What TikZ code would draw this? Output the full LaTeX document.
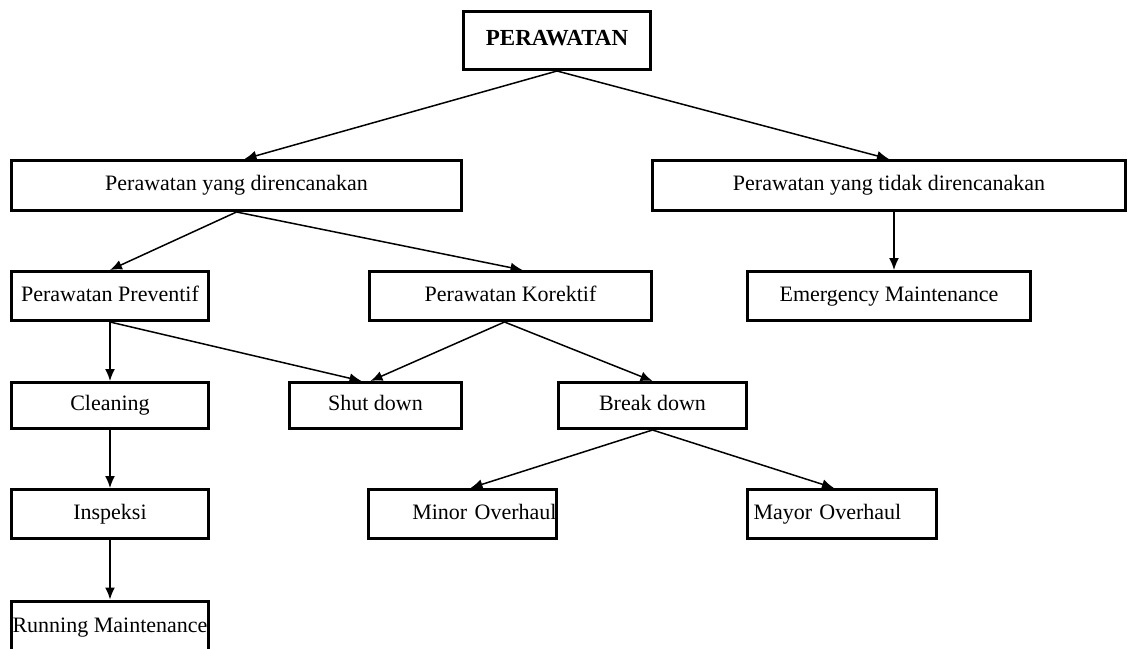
\documentclass[tikz,border=0pt]{standalone}
\usepackage{fontspec}
\setmainfont{Liberation Serif}
\usetikzlibrary{arrows.meta}

\begin{document}
\begin{tikzpicture}[x=0.5pt, y=-0.5pt,
		cadre/.style	= {draw, line width=1.5pt, inner sep=0pt, text height=7.8pt, text depth=2.4pt, font=\fontsize{11}{13}\selectfont},
		fleche/.style	= {-{Latex[length=6pt, width=5pt]}, line width=0.75pt}]
	% Cadre
	\useasboundingbox	(0,0)	rectangle	(1129,648)	;
	\clip				(0,0)	rectangle	(1129,648)	;
	% Niveau 1
	\node [cadre, minimum width=93.5pt, minimum height=29pt, font=\fontsize{11.5}{13}\selectfont\bfseries]
		(perawatan)	at (557,40.5)	{PERAWATAN};
	% Niveau 2
	\node [cadre, minimum width=225pt, minimum height=25pt]		(rencana)		at (236.5,185.5)	{Perawatan yang direncanakan};
	\node [cadre, minimum width=236.5pt, minimum height=25pt]	(takrencana)	at (889,185.5)		{Perawatan yang tidak direncanakan};
	% Niveau 3
	\node [cadre, minimum width=98.5pt, minimum height=24.5pt]	(preventif)		at (110,296)		{Perawatan Preventif};
	\node [cadre, minimum width=141pt, minimum height=24.5pt]	(korektif)		at (510.5,296)		{Perawatan Korektif};
	\node [cadre, minimum width=141.5pt, minimum height=24.5pt]	(darurat)		at (889,296)		{Emergency Maintenance};
	% Niveau 4
	\node [cadre, minimum width=98.5pt, minimum height=23pt]	(cleaning)		at (110,405.5)		{Cleaning};
	\node [cadre, minimum width=86pt, minimum height=23pt]		(shutdown)		at (375.5,405.5)	{Shut down};
	\node [cadre, minimum width=94pt, minimum height=23pt]		(breakdown)		at (652.5,405.5)	{Break down};
	% Niveau 5
	\node [cadre, minimum width=98.5pt, minimum height=24.5pt]	(inspeksi)		at (110,514)		{Inspeksi};
	\node [cadre, text width=94pt, align=right, minimum height=24.5pt]	(minor)	at (462.5,514)	{Minor Overhaul};
	\node [cadre, text width=88.5pt, inner xsep=3pt, align=left, minimum height=24.5pt]	(mayor)	at (842,514)	{Mayor Overhaul};
	% Niveau 6
	\node [cadre, minimum width=98.5pt, minimum height=26pt]	(running)		at (110,627)		{Running Maintenance};
	% Fleches
	\draw [fleche]	(perawatan.south)				-- ([xshift=4pt]rencana.north);
	\draw [fleche]	(perawatan.south)				-- (takrencana.north);
	\draw [fleche]	([xshift=2.5pt]takrencana.south)	-- ([xshift=2.5pt]darurat.north);
	\draw [fleche]	(rencana.south)					-- (preventif.north);
	\draw [fleche]	(rencana.south)					-- ([xshift=6pt]korektif.north);
	\draw [fleche]	(preventif.south)				-- (cleaning.north);
	\draw [fleche]	(preventif.south)				-- ([xshift=-7pt]shutdown.north);
	\draw [fleche]	([xshift=-3pt]korektif.south)	-- ([xshift=-2.5pt]shutdown.north);
	\draw [fleche]	([xshift=-3pt]korektif.south)	-- (breakdown.north);
	\draw [fleche]	(cleaning.south)				-- (inspeksi.north);
	\draw [fleche]	(inspeksi.south)				-- (running.north);
	\draw [fleche]	(breakdown.south)				-- ([xshift=4pt]minor.north);
	\draw [fleche]	(breakdown.south)				-- ([xshift=-4pt]mayor.north);
\end{tikzpicture}
\end{document}
